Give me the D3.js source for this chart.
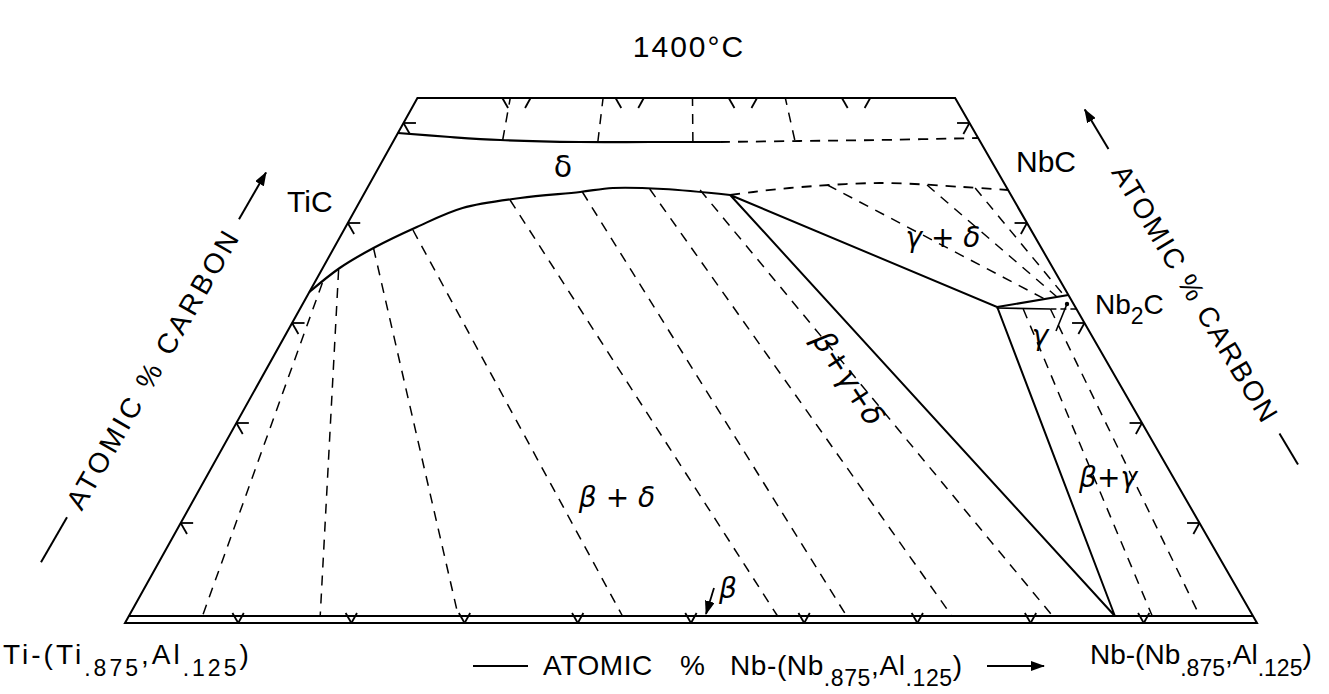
<!DOCTYPE html>
<html lang="en">
<head>
<meta charset="UTF-8">
<title>1400°C</title>
<script src="https://cdn.jsdelivr.net/npm/d3@7"></script>
<style>
  body { margin: 0; background: #fff; }
  svg { display: block; font-family: "Liberation Sans", Arial, sans-serif; }
</style>
</head>
<body>
<svg id="chart" width="1329" height="694"></svg>
<script>
// every point is a composition in at.% : [Nb, C]  (Ti = 100 - Nb - C)
var carbonTicks = [10, 20, 30, 40, 50];
var nbTicks = [10, 20, 30, 40, 50, 60, 70, 80, 90];
var topTicks = [10, 20, 30, 40];
var cTop = 52.5;      // carbon level of the upper cut
var cBeta = 0.7;      // carbon solubility of beta

// delta / (delta + C)
var deltaUpper = [[0, 49.0], [4.8, 48.6], [9.4, 48.3], [16.5, 48.1], [22.7, 48.1], [28.9, 48.1]];
var deltaUpperDash = [[28.9, 48.1], [35.9, 48.2], [42.9, 48.3], [51.5, 48.5]];
// delta / (beta + delta), then delta / (gamma + delta)
var deltaLower = [[0, 33.1], [1.5, 35.5], [3.5, 37.5], [6.3, 39.6], [9.4, 41.5], [14.0, 42.5],
                  [19.0, 43.1], [21.7, 43.5], [26.2, 43.4], [32.4, 42.8]];
var deltaLowerDash = [[32.4, 42.8], [34.3, 43.1], [37.3, 43.5], [45.0, 44.0], [52.6, 43.6], [56.7, 43.3]];
// beta + gamma + delta triangle : delta, gamma, beta corners
var threePhase = [[32.4, 42.8], [61.5, 31.6], [87.1, 0.7]];
// gamma (Nb2C) sliver
var gammaUpper = [[61.5, 31.6], [67.2, 32.8]];
var gammaLower = [[61.5, 31.5], [66.3, 31.4]];
var gammaLowerDash = [[66.3, 31.4], [68.6, 31.4]];

// tie lines
var tieDeltaC = [
  [[9.6, 48.3], [8.2, 52.5]],
  [[18.1, 48.1], [16.4, 52.5]],
  [[26.5, 48.1], [24.3, 52.5]],
  [[35.4, 48.3], [32.5, 52.5]]
];
var tieBetaDelta = [
  [[0.7, 34.0], [6.5, 0.7]],
  [[1.5, 35.3], [16.9, 0.7]],
  [[3.5, 37.5], [29.1, 0.7]],
  [[6.1, 39.3], [43.6, 0.7]],
  [[13.2, 42.3], [57.3, 0.7]],
  [[19.2, 43.1], [63.4, 0.7]],
  [[25.0, 43.4], [72.7, 0.7]],
  [[29.5, 43.3], [81.6, 0.7]]
];
var tieGammaDelta = [
  [[40.5, 43.8], [65.3, 32.4]],
  [[49.3, 43.8], [66.3, 32.6]],
  [[53.7, 43.5], [66.9, 32.7]]
];
var tieBetaGamma = [
  [[63.9, 31.4], [90.4, 0.7]],
  [[66.3, 31.4], [94.6, 0.7]]
];

var svg = d3.select("#chart");

// ternary projection: Nb runs along the base, carbon corner sits above
var xNb = d3.scaleLinear().domain([0, 100]).range([125, 1257]);
var yC = d3.scaleLinear().domain([0, 100]).range([623, -377]);
var apexX = 682;
function px(d) { return xNb(d[0]) + (apexX - xNb(0)) * d[1] / 100; }
function py(d) { return yC(d[1]); }

var straight = d3.line().x(px).y(py);
var smooth = d3.line().x(px).y(py).curve(d3.curveCatmullRom.alpha(0.5));

svg.append("defs").append("marker")
  .attr("id", "head").attr("viewBox", "0 0 14 10")
  .attr("refX", 13).attr("refY", 5)
  .attr("markerWidth", 14).attr("markerHeight", 10)
  .attr("markerUnits", "userSpaceOnUse")
  .attr("orient", "auto")
  .append("path").attr("d", "M0,0 L14,5 L0,10 Z").attr("fill", "#000");

var g = svg.append("g").attr("fill", "none").attr("stroke", "#000");

// frame
g.append("path")
  .attr("d", straight([[0, 0], [100, 0], [100 - cTop, cTop], [0, cTop]]) + "Z")
  .attr("stroke-width", 2);
g.append("path").attr("d", straight([[0, cBeta], [100 - cBeta, cBeta]])).attr("stroke-width", 2.2);

// phase boundaries
g.append("path").attr("d", smooth(deltaUpper)).attr("stroke-width", 2.2);
g.append("path").attr("d", smooth(deltaUpperDash)).attr("stroke-width", 1.8).attr("stroke-dasharray", "10,8");
g.append("path").attr("d", smooth(deltaLower)).attr("stroke-width", 2.2);
g.append("path").attr("d", smooth(deltaLowerDash)).attr("stroke-width", 1.8).attr("stroke-dasharray", "10,8");
g.append("path").attr("d", straight(threePhase) + "Z").attr("stroke-width", 2);
g.append("path").attr("d", straight(gammaUpper)).attr("stroke-width", 2.2);
g.append("path").attr("d", straight(gammaLower)).attr("stroke-width", 1.6);
g.append("path").attr("d", straight(gammaLowerDash)).attr("stroke-width", 1.6).attr("stroke-dasharray", "6,4");

// tie lines
var ties = [].concat(tieDeltaC, tieBetaDelta, tieGammaDelta, tieBetaGamma);
g.selectAll("path.tie").data(ties).enter().append("path")
  .attr("class", "tie")
  .attr("d", function(d) { return straight(d); })
  .attr("stroke-width", 1.5)
  .attr("stroke-dasharray", "10,8");

// ticks
var t = 1.0;
var tickSegs = [];
nbTicks.forEach(function(n) {   // "v" on the base
  tickSegs.push([[n, 0], [n, t]], [[n, 0], [n - t, t]]);
});
topTicks.forEach(function(n) {  // constant Nb and constant Ti on the top cut
  tickSegs.push([[n, cTop], [n, cTop - t]]);
  var nb = 100 - cTop - n;
  tickSegs.push([[nb, cTop], [nb + t, cTop - t]]);
});
carbonTicks.forEach(function(c) {
  var s = 1.1;
  tickSegs.push([[0, c], [s, c]], [[0, c], [s, c - s]]);
  tickSegs.push([[100 - c, c], [100 - c - s, c]], [[100 - c, c], [100 - c, c - s]]);
});
g.selectAll("path.tick").data(tickSegs).enter().append("path")
  .attr("class", "tick")
  .attr("d", function(d) { return straight(d); })
  .attr("stroke-width", 1.8);

// ---- text ----
var txt = svg.append("g").attr("fill", "#000").attr("font-size", 28);

function rich(x, y, parts, size, drop) {
  var el = txt.append("text").attr("x", x).attr("y", y).attr("font-size", size || 28);
  var down = false;
  drop = drop || 12;
  parts.forEach(function(p) {
    var sub = p[1];
    var sp = el.append("tspan").text(p[0]);
    if (sub && !down) { sp.attr("dy", drop).attr("font-size", 23); down = true; }
    else if (sub) { sp.attr("font-size", 23); }
    else if (down) { sp.attr("dy", -drop); down = false; }
    if (p[2] != null) sp.attr("x", p[2]);
  });
  return el;
}

txt.append("text").attr("x", 689).attr("y", 57).attr("text-anchor", "middle")
  .attr("font-size", 30).attr("letter-spacing", 2).text("1400°C");

txt.append("text").attr("x", 287).attr("y", 212).attr("font-size", 30).text("TiC");
txt.append("text").attr("x", 1016).attr("y", 172).attr("font-size", 30).text("NbC");
rich(1095, 314, [["Nb"], ["2", true], ["C"]], 28, 10);

var greek = txt.append("g").attr("font-family", "'DejaVu Sans', sans-serif").attr("font-style", "italic");
greek.append("text").attr("x", 563).attr("y", 177).attr("text-anchor", "middle").attr("font-style", "normal").attr("font-size", 30).text("δ");
greek.append("text").attr("x", 943).attr("y", 247).attr("text-anchor", "middle").attr("font-size", 28).text("γ + δ");
greek.append("text").attr("transform", "translate(840,384) rotate(57)").attr("text-anchor", "middle").attr("font-size", 30).text("β+γ+δ");
greek.append("text").attr("x", 1108).attr("y", 487).attr("text-anchor", "middle").attr("font-size", 28).text("β+γ");
greek.append("text").attr("x", 617).attr("y", 507).attr("text-anchor", "middle").attr("font-size", 28).text("β + δ");
greek.append("text").attr("x", 728).attr("y", 598).attr("text-anchor", "middle").attr("font-size", 28).text("β");
greek.append("text").attr("x", 1040).attr("y", 345).attr("text-anchor", "middle").attr("font-size", 28).text("γ");

// pointer arrows for the beta and gamma labels
svg.append("line").attr("x1", 714).attr("y1", 588).attr("x2", 706).attr("y2", 614)
  .attr("stroke", "#000").attr("stroke-width", 1.8).attr("marker-end", "url(#head)");
svg.append("line").attr("x1", 1056).attr("y1", 331).attr("x2", 1067).attr("y2", 304)
  .attr("stroke", "#000").attr("stroke-width", 1.6);
svg.append("circle").attr("cx", 1067).attr("cy", 304).attr("r", 2.2).attr("fill", "#000");

// side titles
var left = svg.append("g").attr("transform", "translate(152,370) rotate(-60)");
left.append("text").attr("x", 0).attr("y", 10).attr("text-anchor", "middle").attr("font-size", 28)
  .attr("textLength", 316).attr("lengthAdjust", "spacing").text("ATOMIC % CARBON");
left.append("line").attr("x1", -222).attr("x2", -170).attr("y1", 0).attr("y2", 0)
  .attr("stroke", "#000").attr("stroke-width", 2);
left.append("line").attr("x1", 174).attr("x2", 228).attr("y1", 0).attr("y2", 0)
  .attr("stroke", "#000").attr("stroke-width", 2).attr("marker-end", "url(#head)");

var right = svg.append("g").attr("transform", "translate(1195,293) rotate(59)");
right.append("text").attr("x", 0).attr("y", 10).attr("text-anchor", "middle").attr("font-size", 28)
  .attr("textLength", 294).attr("lengthAdjust", "spacing").text("ATOMIC % CARBON");
right.append("line").attr("x1", -168).attr("x2", -214).attr("y1", 0).attr("y2", 0)
  .attr("stroke", "#000").attr("stroke-width", 2).attr("marker-end", "url(#head)");
right.append("line").attr("x1", 164).attr("x2", 200).attr("y1", 0).attr("y2", 0)
  .attr("stroke", "#000").attr("stroke-width", 2);

// base titles
rich(3, 664, [["Ti-(Ti"], [".875", true], [","], ["Al"], [".125", true], [")"]]).attr("letter-spacing", 3);
rich(1090, 664, [["Nb-(Nb"], [".875", true], [","], ["Al"], [".125", true], [")"]]);
rich(543, 675, [["ATOMIC"], ["%", false, 680], ["Nb-(Nb", false, 730], [".875", true], [","], ["Al"], [".125", true], [")"]], 28, 11)
  .attr("letter-spacing", 0.6);
svg.append("line").attr("x1", 473).attr("x2", 528).attr("y1", 666).attr("y2", 666)
  .attr("stroke", "#000").attr("stroke-width", 2);
svg.append("line").attr("x1", 987).attr("x2", 1044).attr("y1", 666).attr("y2", 666)
  .attr("stroke", "#000").attr("stroke-width", 2).attr("marker-end", "url(#head)");
</script>
</body>
</html>
